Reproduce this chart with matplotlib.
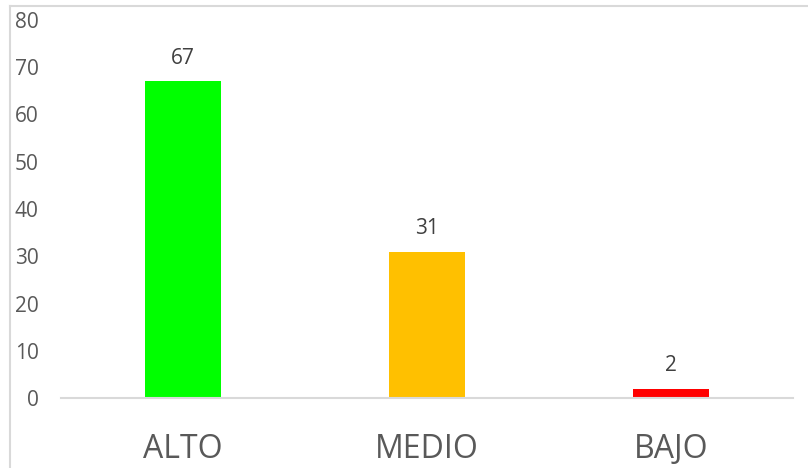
import matplotlib.pyplot as plt
from matplotlib.lines import Line2D

# data
categories = ['ALTO', 'MEDIO', 'BAJO']
values = [67, 31, 2]
colors = ['#00FF00', '#FFC000', '#FF0000']
yticks = [0, 10, 20, 30, 40, 50, 60, 70, 80]


def main():
    plt.rcParams['font.family'] = ['Open Sans', 'DejaVu Sans']
    W, H = 808, 468
    fig = plt.figure(figsize=(W / 100, H / 100), dpi=100)
    ax = fig.add_axes([61 / W, (H - 398) / H, (793 - 61) / W, (398 - 20) / H])

    x = list(range(len(categories)))
    bars = ax.bar(x, values, width=0.315, color=colors, zorder=2)
    for b, v in zip(bars, values):
        ax.annotate(str(v), (b.get_x() + b.get_width() / 2, v), xytext=(0, 9),
                    textcoords='offset points', ha='center', va='bottom',
                    fontsize=15, color='#404040')

    ax.set_xlim(-0.5, len(categories) - 0.5)
    ax.set_ylim(0, 80)
    ax.set_yticks(yticks)
    ax.set_xticks(x)
    ax.set_xticklabels(categories)
    ax.tick_params(axis='y', length=0, pad=16, labelsize=15, labelcolor='#595959')
    ax.tick_params(axis='x', length=0, pad=25, labelsize=23, labelcolor='#595959')
    for s in ['top', 'right', 'left']:
        ax.spines[s].set_visible(False)
    ax.spines['bottom'].set_color('#D9D9D9')
    ax.spines['bottom'].set_linewidth(1.5)

    # chart frame (top and left edges visible)
    fig.add_artist(Line2D([10 / W, 10 / W], [0, 1 - 6 / H], color='#D9D9D9', lw=1.5,
                          transform=fig.transFigure))
    fig.add_artist(Line2D([10 / W, 1], [1 - 6 / H, 1 - 6 / H], color='#D9D9D9', lw=1.5,
                          transform=fig.transFigure))

    fig.savefig('out.png', dpi=100)


if __name__ == "__main__":
    main()
